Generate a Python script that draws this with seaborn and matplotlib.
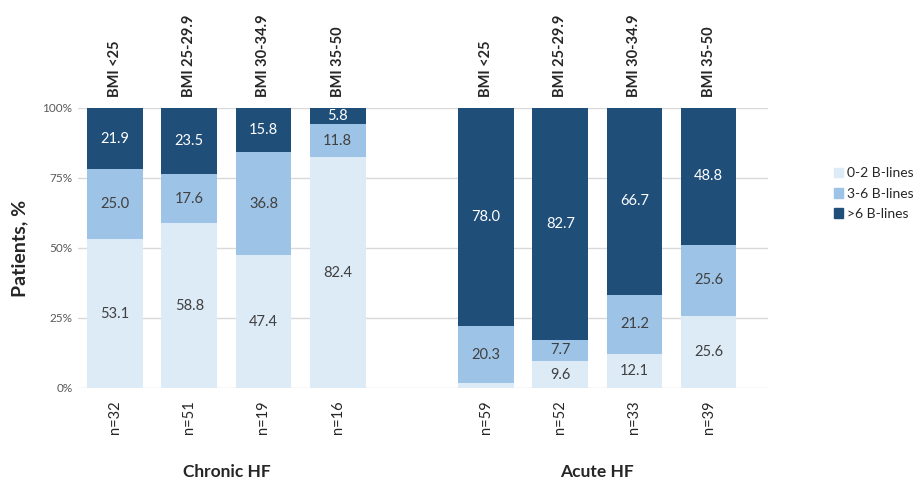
import matplotlib.pyplot as plt
import matplotlib.patches as mpatches
import pandas as pd
import seaborn as sns

# Data (percent of patients per BMI group)
groups = ['Chronic HF', 'Acute HF']
bmi_labels = ['BMI <25', 'BMI 25-29.9', 'BMI 30-34.9', 'BMI 35-50']
n_chronic = [32, 51, 19, 16]
n_acute = [59, 52, 33, 39]
low_chronic = [53.1, 58.8, 47.4, 82.4]    # 0-2 B-lines
mid_chronic = [25.0, 17.6, 36.8, 11.8]    # 3-6 B-lines
high_chronic = [21.9, 23.5, 15.8, 5.8]    # >6 B-lines
low_acute = [1.7, 9.6, 12.1, 25.6]
mid_acute = [20.3, 7.7, 21.2, 25.6]
high_acute = [78.0, 82.7, 66.7, 48.8]
series_names = ['0-2 B-lines', '3-6 B-lines', '>6 B-lines']
colors = ['#DDEBF7', '#9DC3E6', '#1F4E79']

# build table: one gap slot between the two groups
rows = []
for gi, (lows, mids, highs, ns) in enumerate([(low_chronic, mid_chronic, high_chronic, n_chronic),
                                               (low_acute, mid_acute, high_acute, n_acute)]):
    for i in range(4):
        rows.append({'group': groups[gi], 'bmi': bmi_labels[i], 'pos': gi * 5 + i,
                     'low': lows[i], 'mid': mids[i], 'high': highs[i], 'n': ns[i]})
df = pd.DataFrame(rows)
df['cum_low'] = df['low']
df['cum_mid'] = df['low'] + df['mid']
df['cum_high'] = df['low'] + df['mid'] + df['high']

sns.set_style('white')
plt.rcParams['font.family'] = ['Lato', 'DejaVu Sans']

fig = plt.figure(figsize=(9.22, 4.83), dpi=100)
ax = fig.add_axes([0.0846, 0.1967, 0.7484, 0.5797])

# stacked bars drawn as overlapping cumulative totals
for col, c in zip(['cum_high', 'cum_mid', 'cum_low'], colors[::-1]):
    sns.barplot(data=df, x='pos', y=col, native_scale=True, width=0.75,
                color=c, saturation=1, errorbar=None, ax=ax, zorder=3, linewidth=0)

ax.set_xlim(-0.5, 8.8)
ax.set_ylim(0, 100)
ax.set_yticks([0, 25, 50, 75, 100])
ax.set_yticklabels(['0%', '25%', '50%', '75%', '100%'], fontsize=8.5, color='#595959')
ax.yaxis.grid(True, color='#D9D9D9', linewidth=1, zorder=0)
ax.set_axisbelow(True)
ax.set_xticks([])
ax.set_xlabel('')
ax.set_ylabel('Patients, %', fontsize=14, fontweight='bold', labelpad=10)
ax.tick_params(axis='y', length=0, pad=4)
for s in ax.spines.values():
    s.set_visible(False)

# segment value labels
for _, r in df.iterrows():
    segs = [(0, r['low'], '#404040'), (r['low'], r['mid'], '#404040'),
            (r['low'] + r['mid'], r['high'], 'white')]
    for base, v, tc in segs:
        if v < 3:
            continue
        ax.text(r['pos'], base + v / 2, f'{v:.1f}', ha='center', va='center',
                fontsize=10.5, color=tc, zorder=5)
    ax.text(r['pos'], 104, r['bmi'], rotation=90, ha='center', va='bottom',
            fontsize=10.5, fontweight='bold', clip_on=False)
    ax.text(r['pos'], -4.5, f"n={r['n']}", rotation=90, ha='center', va='top',
            fontsize=10.5, clip_on=False)

# group labels
for gi, g in enumerate(groups):
    ax.text(gi * 5 + 1.5, -30, g, ha='center', va='center', fontsize=12.5,
            fontweight='bold', clip_on=False)

handles = [mpatches.Patch(color=c, label=l) for c, l in zip(colors, series_names)]
fig.legend(handles=handles, loc='upper left', bbox_to_anchor=(0.898, 0.665),
           frameon=False, fontsize=10, handlelength=0.7, handleheight=0.7,
           handletextpad=0.3, labelspacing=0.6, borderaxespad=0)

fig.savefig('out.png', dpi=100)
